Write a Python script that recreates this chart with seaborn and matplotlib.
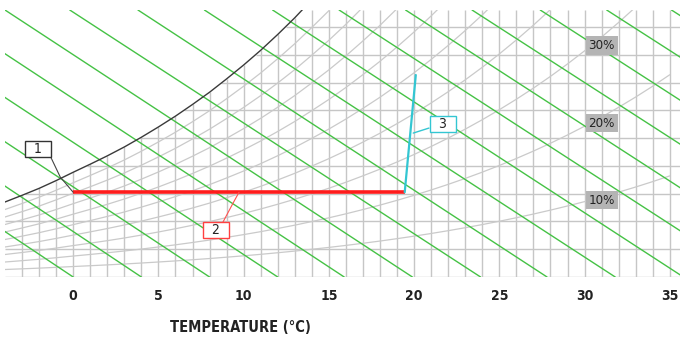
import numpy as np
import pandas as pd
import matplotlib
matplotlib.use("Agg")
import matplotlib.pyplot as plt
from matplotlib import font_manager
import seaborn as sns

# saturation humidity ratio (g/kg), -4..35 C
temps = list(range(-4, 36))
w_sat = [2.70, 2.94, 3.19, 3.47, 3.77, 4.06, 4.36, 4.68, 5.03, 5.40,
         5.79, 6.21, 6.65, 7.13, 7.63, 8.16, 8.73, 9.33, 9.98, 10.65,
         11.37, 12.14, 12.94, 13.80, 14.70, 15.66, 16.67, 17.74, 18.87, 20.07,
         21.33, 22.66, 24.07, 25.56, 27.13, 28.79, 30.54, 32.39, 34.34, 36.40]

rh_levels = [10, 20, 30, 40, 50, 60, 70, 80, 90]

# horizontal grid (g/kg) and where each meets the saturation curve
w_levels = [0, 1, 2, 3, 4, 5, 6, 7, 8, 9]
dew_T = [-4, -4, -4, -2.8, 0.8, 3.9, 6.5, 8.7, 10.7, 12.5]

# green enthalpy lines: temperature at w = 0 and at the top edge
w_top = 9.61
enth_T_bottom = [0, 4, 8, 12, 15.9, 19.9, 23.9, 27.8, 31.8, 35.8, 39.8, 43.7, 47.7, 51.7, 55.7, 59.6]
enth_T_top = [-23.5, -19.5, -15.7, -11.8, -7.9, -4.0, -0.2, 3.8, 7.7, 11.7, 15.6, 19.5, 23.4, 27.4, 31.3, 35.1]

# process: 1 -> 2 (heating), 2 -> 3 (humidifying)
heat_T = [0, 19.45]
heat_w = [3.05, 3.05]
humid_T = [19.45, 20.1]
humid_w = [3.05, 7.27]

rh_label_text = ["10%", "20%", "30%"]
rh_label_T = [31.0, 31.0, 31.0]
rh_label_w = [2.77, 5.54, 8.32]

xticks = [0, 5, 10, 15, 20, 25, 30, 35]

sns.set_style("white")

# pick a narrow face if one is there
names = {f.name for f in font_manager.fontManager.ttflist}
narrow = [n for n in ['Liberation Sans Narrow', 'DejaVu Sans'] if n in names]
print(sorted(n for n in names if 'Narrow' in n or 'Condensed' in n))
stretch = 'condensed'

fig = plt.figure(figsize=(6.8, 3.38), dpi=100)
ax = fig.add_axes([5 / 680, 61 / 338, 675 / 680, 267 / 338])

grid_c = '#c6c6c6'
# vertical grid, stops at saturation
ax.vlines(temps[1:], 0, [min(w, w_top) for w in w_sat[1:]], color=grid_c, lw=1.0, zorder=1)
ax.hlines(w_levels, dew_T, 35.6, color=grid_c, lw=1.0, zorder=1)

# relative humidity curves
rh_df = pd.DataFrame([(t, w * rh / 100, rh) for rh in rh_levels for t, w in zip(temps, w_sat)],
                     columns=['T', 'w', 'rh'])
for rh, grp in rh_df.groupby('rh'):
    ax.plot(grp['T'], grp['w'], color='#cacaca', lw=0.9, zorder=2)

# enthalpy lines
for tb, tt in zip(enth_T_bottom, enth_T_top):
    ax.plot([tb, tt], [0, w_top], color='#45c245', lw=1.0, zorder=3)

# saturation curve
sat_df = pd.DataFrame({'T': temps, 'w': w_sat})
sns.lineplot(data=sat_df, x='T', y='w', color='#3a3a3a', lw=1.0, ax=ax, zorder=4)

ax.plot(heat_T, heat_w, color='#ff1c1c', lw=2.6, zorder=5, solid_capstyle='butt')
ax.plot(humid_T, humid_w, color='#33c6d2', lw=1.6, zorder=5)

# callout leaders
ax.plot([-1.35, -0.76, 0], [4.36, 3.6, 3.05], color='#444444', lw=0.8, zorder=6)
ax.plot([8.79, 9.38, 9.73], [1.98, 2.66, 3.05], color='#ff5050', lw=0.8, zorder=6)
ax.plot([20.87, 19.95], [5.36, 5.18], color='#33c6d2', lw=1.0, zorder=6)

box_kw = dict(ha='center', va='center', fontsize=10, family=narrow, fontstretch=stretch,
              color='#222222', zorder=7)
ax.text(-2.05, 4.61, '  1  ', bbox=dict(boxstyle='square,pad=0.08', fc='white', ec='#333333', lw=1), **box_kw)
ax.text(8.38, 1.69, '  2  ', bbox=dict(boxstyle='square,pad=0.08', fc='white', ec='#ff4040', lw=1), **box_kw)
ax.text(21.69, 5.51, '  3  ', bbox=dict(boxstyle='square,pad=0.08', fc='white', ec='#33c6d2', lw=1), **box_kw)

for txt, t, w in zip(rh_label_text, rh_label_T, rh_label_w):
    ax.text(t, w, txt, ha='center', va='center', fontsize=9.5, family=narrow, fontstretch=stretch,
            color='#222222', bbox=dict(boxstyle='square,pad=0.22', fc='#b4b4b4', ec='none'), zorder=7)

ax.set_xlim(-4, 35.6)
ax.set_ylim(0, w_top)
ax.set_xticks(xticks)
ax.set_xticklabels([str(t) for t in xticks], family=narrow, fontweight='bold', fontstretch=stretch,
                   fontsize=10, color='#222222')
ax.set_yticks([])
ax.tick_params(axis='x', length=6, width=1, color=grid_c, pad=3, direction='out')
ax.set_xlabel('')
ax.set_ylabel('')
for s in ax.spines.values():
    s.set_visible(False)

ax.text(9.8, -1.8, 'TEMPERATURE (°C)', ha='center', va='center', fontsize=10.5,
        fontweight='bold', family=narrow, fontstretch=stretch, color='#222222', clip_on=False)

fig.savefig('out.png', dpi=100)
